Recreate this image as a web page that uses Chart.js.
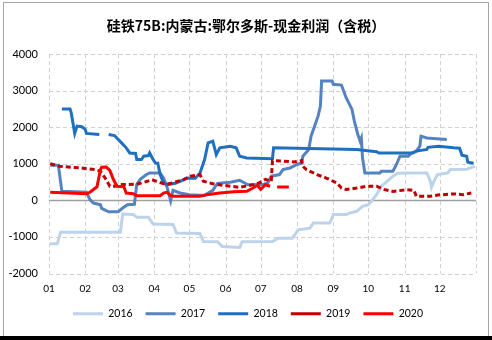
<!DOCTYPE html>
<html><head><meta charset="utf-8">
<script src="https://cdn.jsdelivr.net/npm/chart.js@4/dist/chart.umd.min.js"></script>
<style>
html,body{margin:0;padding:0;background:#fff;}
#wrap{position:relative;width:492px;height:340px;overflow:hidden;background:#fff;}
#frame{position:absolute;left:3px;top:2px;width:484px;height:336px;border:1px solid #a6a6a6;border-bottom:none;}
#bar{position:absolute;left:0;top:336px;width:492px;height:4px;background:#000;}
#title{position:absolute;left:0;width:492px;top:15px;line-height:20px;text-align:center;font-weight:bold;font-size:14px;font-family:"Noto Sans CJK SC";color:#000;}
#c{position:absolute;left:0;top:0;}
</style></head>
<body><div id="wrap"><div id="frame"></div><div id="bar"></div>
<canvas id="c" width="492" height="340"></canvas>
<div id="title">硅铁75B:内蒙古:鄂尔多斯-现金利润（含税）</div></div>
<script>
// month start positions (day of year) and tick labels
const monthStarts = [0,31,59,90,120,151,181,212,243,273,304,334,365];
const monthLabels = ['01','02','03','04','05','06','07','08','09','10','11','12',''];
const seriesNames = ['2016','2017','2018','2019','2020'];

const days2016 = [1,7,10,61,63,72,75,85,89,106,109,129,132,144,148,163,165,191,196,208,213,223,226,240,243,254,257,263,268,273,276,280,284,289,294,298,311,323,326,327,329,332,341,343,357,364];
const vals2016 = [-1190,-1190,-870,-870,-375,-385,-465,-465,-650,-660,-895,-905,-1125,-1135,-1260,-1290,-1135,-1125,-1035,-1035,-805,-760,-620,-620,-390,-390,-350,-300,-165,-120,-10,155,385,520,660,740,750,750,520,360,520,705,750,840,850,930];

const days2017 = [1,8,11,32,35,38,44,45,51,59,63,67,73,75,78,83,86,95,98,101,103,104,106,112,120,133,140,144,155,163,170,183,187,190,197,200,206,212,216,217,222,224,227,230,232,233,242,243,250,254,259,261,264,266,267,268,270,283,284,294,297,300,307,310,314,317,318,323,340];
const vals2017 = [960,960,250,220,20,-75,-120,-220,-315,-315,-210,-120,-110,430,575,700,750,750,605,355,110,-15,275,200,155,135,275,465,495,550,425,430,475,660,705,840,885,980,1020,1205,1390,1755,2025,2300,2575,3260,3260,3170,3150,2805,2485,2165,1800,1615,1700,1160,750,750,795,795,980,1205,1205,1295,1345,1480,1755,1705,1665];

const days2018 = [11,18,19,22,24,28,31,32,43,47,51,56,62,66,69,74,75,79,81,85,86,89,91,93,95,98,101,108,112,118,125,129,133,136,140,143,146,155,160,163,169,191,192,263,280,282,311,314,323,324,333,346,351,353,357,358,363];
const vals2018 = [2500,2500,2390,1830,2030,2010,1940,1830,1800,null,1800,1770,1570,1435,1295,1280,1115,1115,1205,1225,1295,1115,1020,1015,705,475,430,465,520,610,605,740,1115,1570,1615,1250,1435,1480,1435,1205,1160,1140,1435,1390,1330,1295,1295,1345,1390,1450,1480,1435,1425,1235,1205,1040,1015];

const days2019 = [1,9,27,39,44,48,52,56,61,75,84,88,92,98,103,115,121,129,132,140,149,163,172,179,185,190,191,200,209,216,217,220,229,237,246,250,254,263,272,280,286,294,306,312,314,326,334,346,354,361];
const vals2019 = [1005,930,885,840,795,610,385,385,430,440,520,565,520,455,455,565,660,705,520,455,410,355,410,465,575,520,1085,1070,1050,1085,930,840,705,610,475,335,295,335,385,385,300,245,290,275,110,110,150,175,155,200];

const days2020 = [1,32,35,38,41,44,45,49,52,55,58,64,66,72,75,95,98,101,103,106,129,135,146,158,169,174,178,181,185,189,192,195,205];
const vals2020 = [220,180,220,295,370,840,905,910,820,575,385,370,200,180,125,125,200,225,155,110,110,155,200,235,245,330,410,300,425,385,null,365,365];

const yTicks = [-2000,-1000,0,1000,2000,3000,4000];

const pts = (d, v) => d.map((x, i) => ({x: x, y: v[i]}));
const colors = ['#bdd3ec','#5582c1','#1f70c0','#c00000','#ff0000'];

// dashed gridlines at the scales' ticks, plus a solid zero line
const gridPlugin = {
  id: 'gridPlugin',
  beforeDatasetsDraw(chart) {
    const {ctx, chartArea, scales} = chart;
    ctx.save();
    ctx.strokeStyle = '#d0d0d0';
    ctx.lineWidth = 1;
    ctx.setLineDash([4, 3]);
    scales.x.ticks.forEach(t => {
      const x = Math.round(scales.x.getPixelForValue(t.value)) + 0.5;
      ctx.beginPath(); ctx.moveTo(x, chartArea.top); ctx.lineTo(x, chartArea.bottom); ctx.stroke();
    });
    scales.y.ticks.forEach(t => {
      if (t.value === 0) return;
      const y = Math.round(scales.y.getPixelForValue(t.value)) + 0.5;
      ctx.beginPath(); ctx.moveTo(chartArea.left, y); ctx.lineTo(chartArea.right, y); ctx.stroke();
    });
    ctx.setLineDash([]);
    ctx.strokeStyle = '#a0a0a0';
    ctx.lineWidth = 1.5;
    const y0 = Math.round(scales.y.getPixelForValue(0)) + 0.5;
    ctx.beginPath(); ctx.moveTo(chartArea.left, y0); ctx.lineTo(chartArea.right, y0); ctx.stroke();
    ctx.restore();
  }
};

const allDays = [days2016, days2017, days2018, days2019, days2020];
const allVals = [vals2016, vals2017, vals2018, vals2019, vals2020];

new Chart(document.getElementById('c'), {
  type: 'line',
  data: {
    datasets: seriesNames.map((name, i) => ({
      label: name,
      data: pts(allDays[i], allVals[i]),
      borderColor: colors[i],
      backgroundColor: colors[i],
      borderWidth: 3,
      borderDash: i === 3 ? [5, 3] : [],
      pointRadius: 0,
      tension: 0,
      spanGaps: false,
      order: 4 - i
    }))
  },
  options: {
    responsive: false,
    animation: false,
    devicePixelRatio: 1,
    layout: {padding: {top: 54, left: 4, right: 0, bottom: 11}},
    plugins: {
      title: {display: false},
      tooltip: {enabled: false},
      legend: {
        position: 'bottom',
        labels: {
          usePointStyle: true,
          pointStyle: 'line',
          pointStyleWidth: 30,
          boxHeight: 11,
          padding: 13,
          color: '#000',
          font: {family: 'Lato', size: 10.5},
          sort: (a, b) => a.datasetIndex - b.datasetIndex
        }
      }
    },
    scales: {
      x: {
        type: 'linear',
        min: 0, max: 365,
        afterBuildTicks: (s) => { s.ticks = monthStarts.map(v => ({value: v})); },
        afterFit: (s) => { s.height = 22; },
        ticks: {
          autoSkip: false, maxRotation: 0, padding: 9, color: '#000',
          font: {family: 'Lato', size: 10},
          callback: (v) => monthLabels[monthStarts.indexOf(v)]
        },
        grid: {display: false, drawTicks: false},
        border: {display: false}
      },
      y: {
        min: -2000, max: 4000,
        afterBuildTicks: (s) => { s.ticks = yTicks.map(v => ({value: v})); },
        afterFit: (s) => { s.width = 45; },
        ticks: {padding: 11, color: '#000', font: {family: 'Lato', size: 11},
          callback: (v) => String(v)},
        grid: {display: false, drawTicks: false},
        border: {display: false}
      },
      y2: {
        position: 'right',
        min: 0, max: 1,
        afterFit: (s) => { s.width = 16; },
        ticks: {display: false},
        grid: {display: false},
        border: {display: false}
      }
    }
  },
  plugins: [gridPlugin]
});
</script></body></html>
